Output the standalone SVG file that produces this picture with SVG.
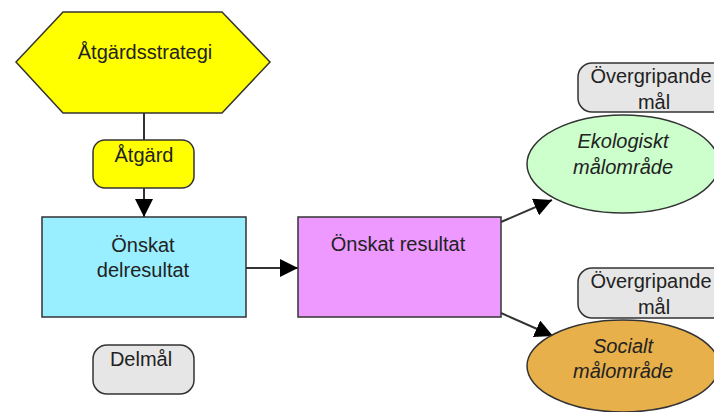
<svg xmlns="http://www.w3.org/2000/svg" width="714" height="412" viewBox="0 0 714 412">
<defs>
<marker id="ah" markerWidth="19" markerHeight="18" refX="18" refY="9" orient="auto" markerUnits="userSpaceOnUse">
<path d="M0,0 L18,9 L0,18 Z" fill="#000"/>
</marker>
<style>
text{font-family:"Liberation Sans",Arial,sans-serif;font-size:20px;fill:#222;text-anchor:middle}
.it{font-style:italic}
.sh{stroke:#333;stroke-width:1.5}
.ln{stroke:#333;stroke-width:2;fill:none}
</style>
</defs>
<rect width="714" height="412" fill="#fff"/>
<g id="connectors">
<line class="ln" x1="144" y1="113" x2="144" y2="140"/>
<line class="ln" x1="144" y1="188" x2="144" y2="217" marker-end="url(#ah)"/>
<line class="ln" x1="246" y1="268" x2="298" y2="268" marker-end="url(#ah)"/>
<line class="ln" x1="501" y1="222" x2="552" y2="200" marker-end="url(#ah)"/>
<line class="ln" x1="501" y1="313" x2="553" y2="336" marker-end="url(#ah)"/>
</g>
<g id="atgardsstrategi">
<polygon class="sh" points="16,62 63,12 222,12 270,62 222,113 63,113" fill="#FFFF00"/>
<text x="145" y="59">Åtgärdsstrategi</text>
</g>
<g id="atgard">
<rect class="sh" x="93" y="140" width="101" height="48" rx="12" fill="#FFFF00"/>
<text x="144" y="162">Åtgärd</text>
</g>
<g id="onskat-delresultat">
<rect class="sh" x="42" y="217" width="204" height="100" fill="#99EEFF"/>
<text x="143" y="252">Önskat</text>
<text x="143" y="277">delresultat</text>
</g>
<g id="onskat-resultat">
<rect class="sh" x="298" y="217" width="203" height="100" fill="#EE99FF"/>
<text x="398" y="251">Önskat resultat</text>
</g>
<g id="delmal">
<rect class="sh" x="93" y="345" width="101" height="49" rx="14" fill="#E6E6E6"/>
<text x="141" y="366">Delmål</text>
</g>
<g id="overgripande-mal-1">
<rect class="sh" x="578" y="63" width="150" height="49" rx="14" fill="#E6E6E6"/>
<text x="651" y="83">Övergripande</text>
<text x="654" y="109">mål</text>
</g>
<g id="ekologiskt">
<ellipse class="sh" cx="623" cy="164" rx="96" ry="49" fill="#CCFFCC"/>
<text class="it" x="623" y="148">Ekologiskt</text>
<text class="it" x="623" y="174">målområde</text>
</g>
<g id="overgripande-mal-2">
<rect class="sh" x="578" y="268" width="150" height="50" rx="14" fill="#E6E6E6"/>
<text x="651" y="288">Övergripande</text>
<text x="654" y="314">mål</text>
</g>
<g id="socialt">
<ellipse class="sh" cx="623" cy="366" rx="96" ry="46" fill="#E8B04B"/>
<text class="it" x="623" y="353">Socialt</text>
<text class="it" x="623" y="378">målområde</text>
</g>
</svg>
